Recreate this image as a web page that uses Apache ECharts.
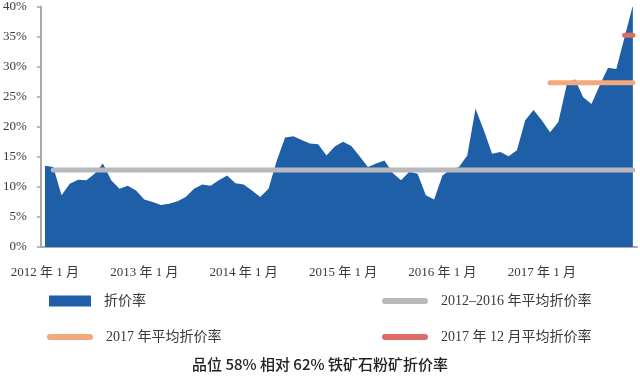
<!DOCTYPE html>
<html>
<head>
<meta charset="utf-8">
<script src="https://cdn.jsdelivr.net/npm/echarts@6/dist/echarts.min.js"></script>
<style>
html,body{margin:0;padding:0;background:#fff;}
#main{width:640px;height:381px;}
</style>
</head>
<body>
<div id="main"></div>
<script>
// Months 2012-01 .. 2017-12
const years = [2012, 2013, 2014, 2015, 2016, 2017];
const categories = [];
years.forEach(y => { for (let m = 1; m <= 12; m++) categories.push(y + '-' + (m < 10 ? '0' + m : m)); });

// Discount rate (%) of 58% vs 62% iron ore fines
const discount2012 = [13.5, 13.3, 8.6, 10.5, 11.2, 11.1, 12.2, 13.9, 11.1, 9.7, 10.2, 9.4];
const discount2013 = [7.9, 7.5, 7.0, 7.2, 7.6, 8.3, 9.7, 10.4, 10.2, 11.1, 11.9, 10.6];
const discount2014 = [10.4, 9.4, 8.3, 9.7, 14.4, 18.2, 18.4, 17.8, 17.2, 17.1, 15.2, 16.7];
const discount2015 = [17.5, 16.8, 15.1, 13.3, 13.9, 14.4, 12.3, 11.1, 12.5, 12.2, 8.6, 7.9];
const discount2016 = [11.9, 12.9, 13.3, 15.2, 23.0, 19.4, 15.5, 15.8, 15.1, 16.1, 21.1, 22.8];
const discount2017 = [21.1, 19.1, 20.8, 26.9, 27.9, 24.9, 23.8, 26.9, 29.8, 29.6, 34.9, 40.2];
const discount = [].concat(discount2012, discount2013, discount2014, discount2015, discount2016, discount2017);

// Average lines: [startCategory, endCategory, value]
const avg2012to2016 = ['2012-02', '2017-12', 12.8];
const avg2017 = ['2017-02', '2017-12', 27.3];
const avgDec2017 = ['2017-11', '2017-12', 35.2];

const seriesNames = ['折价率', '2012–2016 年平均折价率', '2017 年平均折价率', '2017 年 12 月平均折价率'];
const yTicks = [0, 5, 10, 15, 20, 25, 30, 35, 40];
const titleText = '品位 58% 相对 62% 铁矿石粉矿折价率';

const serif = '"Liberation Serif", "Noto Sans CJK SC", serif';
const colors = { area: '#1f5fa8', gray: '#b7b9bd', orange: '#f2a97c', red: '#e06a66', axis: '#a9a9a9', text: '#3a3a3a' };
const pill = 'path://M3,0 L43,0 A3,3 0 0 1 43,6 L3,6 A3,3 0 0 1 3,0 Z';

function avgSeries(name, def, color) {
  return {
    name: name, type: 'line', symbol: 'none', z: 5,
    data: [[def[0], def[2]], [def[1], def[2]]],
    lineStyle: { color: color, width: 5, cap: 'round' },
    itemStyle: { color: color },
    emphasis: { disabled: true }
  };
}
function legendAt(name, left, top, icon, w, h) {
  return {
    data: [name], left: left, top: top, padding: 0, icon: icon,
    itemWidth: w, itemHeight: h, selectedMode: false,
    textStyle: { fontFamily: serif, fontSize: 14, color: colors.text, padding: [0, 0, 0, 8] }
  };
}

const chart = echarts.init(document.getElementById('main'), null, { renderer: 'canvas' });
chart.setOption({
  animation: false,
  backgroundColor: '#ffffff',
  title: {
    text: titleText, left: 'center', top: 357, padding: 0,
    textStyle: { fontFamily: '"Noto Sans CJK SC", sans-serif', fontSize: 15, fontWeight: 500, color: '#222' }
  },
  grid: { left: 40, right: 3, top: 6, bottom: 134 },
  xAxis: {
    type: 'category', data: categories, boundaryGap: true,
    axisLine: { lineStyle: { color: colors.axis, width: 2 } },
    axisTick: { interval: 11, length: 5, lineStyle: { color: colors.axis, width: 2 } },
    axisLabel: {
      interval: 11, margin: 19, fontFamily: serif, fontSize: 13, color: colors.text,
      formatter: v => v.slice(0, 4) + ' 年 ' + parseInt(v.slice(5), 10) + ' 月'
    },
    splitLine: { show: false }
  },
  yAxis: {
    type: 'value', min: yTicks[0], max: yTicks[yTicks.length - 1], interval: yTicks[1] - yTicks[0],
    axisLine: { show: true, lineStyle: { color: colors.axis, width: 2 } },
    axisTick: { show: true, length: 4, lineStyle: { color: colors.axis, width: 1.5 } },
    axisLabel: { margin: 14, fontFamily: serif, fontSize: 13, color: colors.text, formatter: '{value}%' },
    splitLine: { show: false }
  },
  legend: [
    legendAt(seriesNames[0], 49, 294, 'rect', 42, 11),
    legendAt(seriesNames[1], 382, 294, pill, 46, 6),
    legendAt(seriesNames[2], 47, 330, pill, 46, 6),
    legendAt(seriesNames[3], 382, 330, pill, 46, 6)
  ],
  series: [
    {
      name: seriesNames[0], type: 'line', data: discount, symbol: 'none', z: 2,
      lineStyle: { width: 0, color: colors.area },
      itemStyle: { color: colors.area },
      areaStyle: { color: colors.area, opacity: 1 },
      emphasis: { disabled: true }
    },
    avgSeries(seriesNames[1], avg2012to2016, colors.gray),
    avgSeries(seriesNames[2], avg2017, colors.orange),
    avgSeries(seriesNames[3], avgDec2017, colors.red)
  ]
});
</script>
</body>
</html>
